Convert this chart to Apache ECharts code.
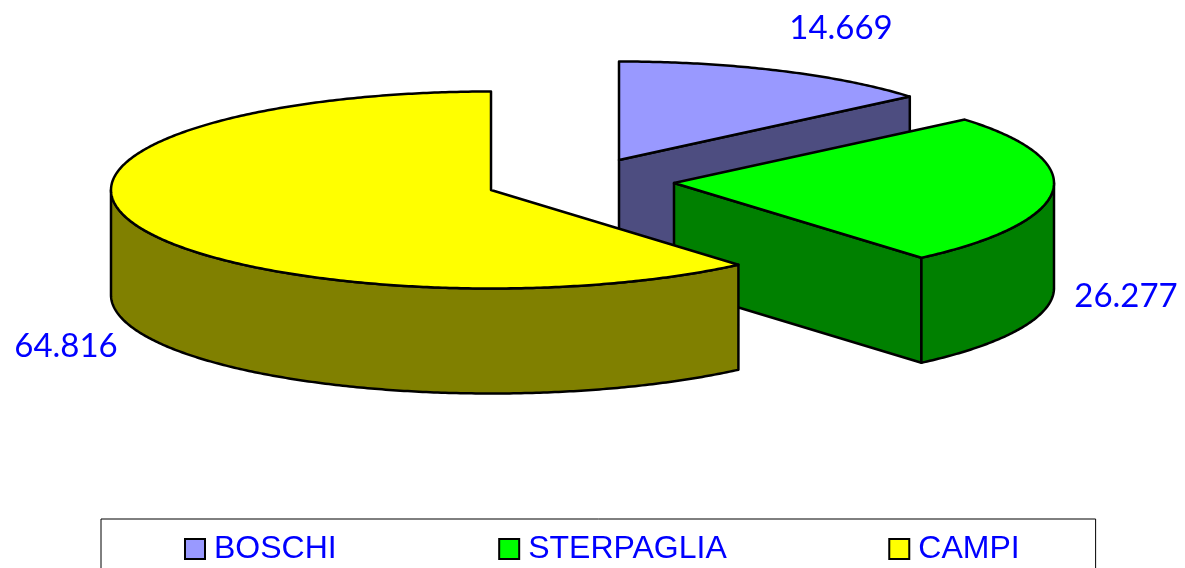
<!DOCTYPE html>
<html>
<head>
<meta charset="utf-8">
<style>html,body{margin:0;padding:0;background:#fff;overflow:hidden}#main{width:1185px;height:568px}</style>
<script src="https://cdn.jsdelivr.net/npm/echarts@6/dist/echarts.min.js"></script>
</head>
<body>
<div id="main"></div>
<script>
var categories = ['BOSCHI', 'STERPAGLIA', 'CAMPI'];
var values = [14.669, 26.277, 64.816];

var topColors = ['#9999FF', '#00FF00', '#FFFF00'];
var sideColors = ['#4D4D80', '#008000', '#808000'];
var apexes = [[619, 160], [674, 183], [491, 190]];  // exploded slice tips
var labelPos = [[841, 28], [1126, 296], [66, 346]];

var RX = 380, RY = 98.5, DEPTH = 105;
var total = values.reduce(function (a, b) { return a + b; }, 0);

// angle in radians, clockwise from 12 o'clock
function slicePoint(apex, a, drop) {
    return [apex[0] + RX * Math.sin(a), apex[1] - RY * Math.cos(a) + (drop || 0)];
}

function arcPoints(apex, a0, a1, drop) {
    var pts = [], n = Math.max(2, Math.ceil(Math.abs(a1 - a0) / 0.01));
    for (var i = 0; i <= n; i++) {
        pts.push(slicePoint(apex, a0 + (a1 - a0) * i / n, drop));
    }
    return pts;
}

function poly(points, fill) {
    return {
        type: 'polygon',
        shape: { points: points },
        style: { fill: fill, stroke: '#000', lineWidth: 2.5, lineJoin: 'round' }
    };
}

function renderSlice(idx, api) {
    var start = 0;
    // first slice starts at 12 o'clock, the last one closes back on it
    for (var i = 0; i < idx; i++) start += values[i] / total * Math.PI * 2;
    var end = start + api.value(0) / total * Math.PI * 2;
    var apex = apexes[idx];
    var kids = [];

    // cut wall on the clockwise edge, only when it faces the viewer
    if (Math.sin(end) > 0.001) {
        var e = slicePoint(apex, end);
        kids.push(poly([apex, e, [e[0], e[1] + DEPTH], [apex[0], apex[1] + DEPTH]], sideColors[idx]));
    }
    // outer wall, front half of the ellipse only
    var a0 = Math.max(start, Math.PI / 2), a1 = Math.min(end, Math.PI * 1.5);
    if (a1 > a0) {
        var wall = arcPoints(apex, a0, a1, 0).concat(arcPoints(apex, a1, a0, DEPTH));
        kids.push(poly(wall, sideColors[idx]));
    }
    // top face
    kids.push(poly([apex].concat(arcPoints(apex, start, end, 0)), topColors[idx]));
    // value label
    kids.push({
        type: 'text',
        x: labelPos[idx][0],
        y: labelPos[idx][1],
        style: {
            text: api.value(0).toFixed(3),
            fill: '#0000FF',
            font: '33px "Comic Sans MS", Lato, sans-serif',
            align: 'center',
            verticalAlign: 'middle'
        }
    });
    return { type: 'group', children: kids };
}

var seriesList = categories.map(function (name, idx) {
    return {
        type: 'custom',
        name: name,
        coordinateSystem: 'none',
        silent: true,
        animation: false,
        z: idx + 2,
        itemStyle: { color: topColors[idx], borderColor: '#000', borderWidth: 2.5 },
        data: [[values[idx]]],
        renderItem: function (params, api) { return renderSlice(idx, api); }
    };
});

var myChart = echarts.init(document.getElementById('main'), null, { renderer: 'canvas' });
myChart.setOption({
    backgroundColor: '#fff',
    animation: false,
    legend: {
        data: categories,
        left: 101,
        top: 519,
        orient: 'horizontal',
        icon: 'rect',
        itemWidth: 20,
        itemHeight: 20,
        itemGap: 161.5,
        padding: [14, 76, 40, 83],
        borderColor: '#000',
        borderWidth: 1,
        selectedMode: false,
        textStyle: { color: '#0000FF', fontFamily: '"Liberation Sans", Arial, sans-serif', fontSize: 32, padding: [0, 0, 0, 4] }
    },
    series: seriesList
});
</script>
</body>
</html>
